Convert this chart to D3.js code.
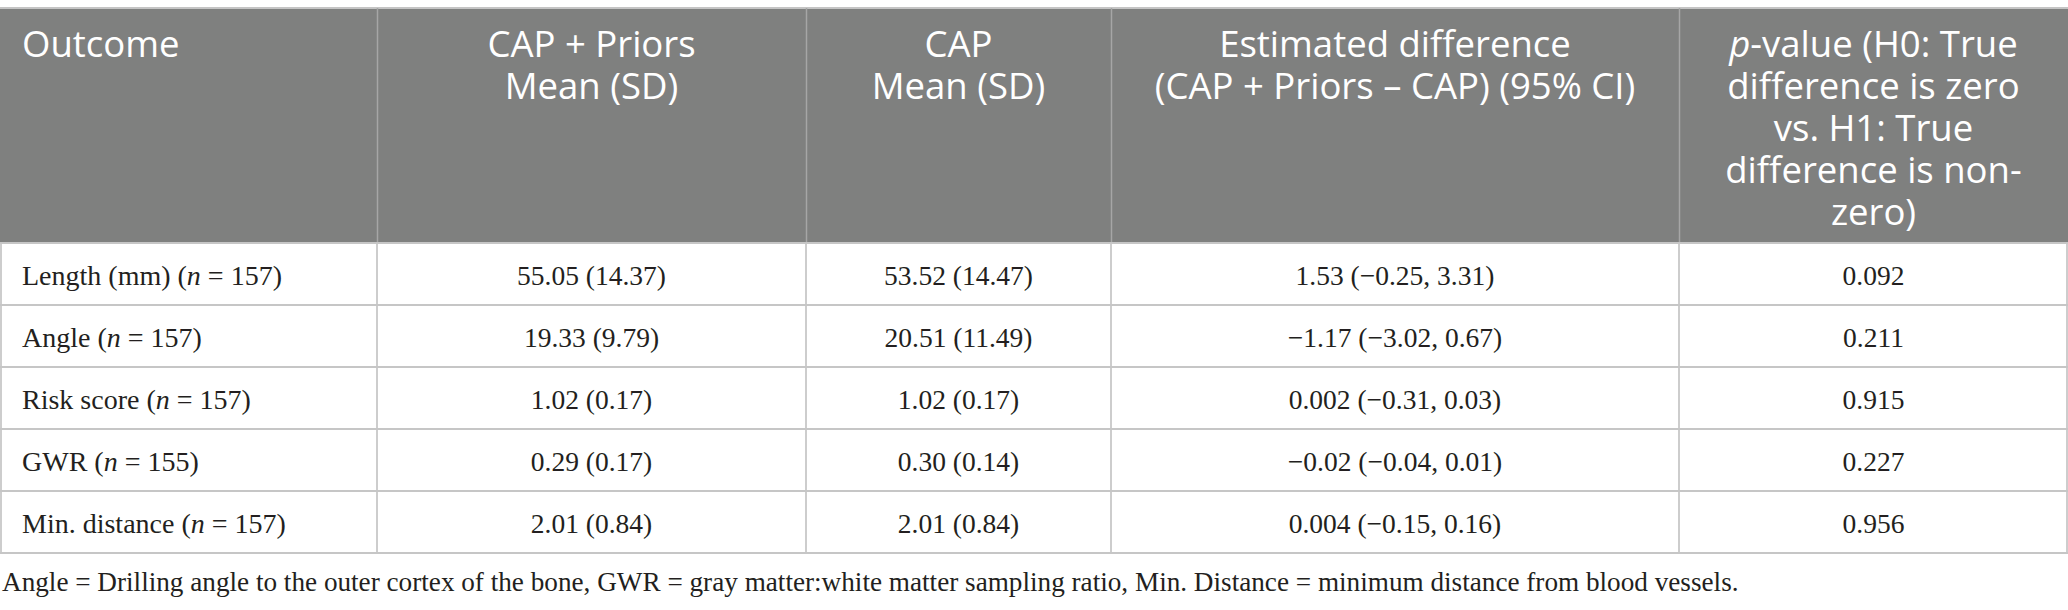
<!DOCTYPE html>
<html>
<head>
<meta charset="utf-8">
<script src="https://cdn.jsdelivr.net/npm/d3@7"></script>
<style>
  html, body { margin: 0; padding: 0; background: #fff; }
  svg { display: block; }
</style>
</head>
<body>
<svg id="chart" width="2068" height="610"></svg>
<script>
// ---- data ----
const outcomes = ["Length (mm)", "Angle", "Risk score", "GWR", "Min. distance"];
const nValues = [157, 157, 157, 155, 157];
const capPriors = ["55.05 (14.37)", "19.33 (9.79)", "1.02 (0.17)", "0.29 (0.17)", "2.01 (0.84)"];
const capOnly = ["53.52 (14.47)", "20.51 (11.49)", "1.02 (0.17)", "0.30 (0.14)", "2.01 (0.84)"];
const estDiff = ["1.53 (\u22120.25, 3.31)", "\u22121.17 (\u22123.02, 0.67)", "0.002 (\u22120.31, 0.03)",
                 "\u22120.02 (\u22120.04, 0.01)", "0.004 (\u22120.15, 0.16)"];
const pValues = ["0.092", "0.211", "0.915", "0.227", "0.956"];
const headers = [
  ["Outcome"],
  ["CAP + Priors", "Mean (SD)"],
  ["CAP", "Mean (SD)"],
  ["Estimated difference", "(CAP + Priors \u2013 CAP) (95% CI)"],
  ["p-value (H0: True", "difference is zero", "vs. H1: True", "difference is non-", "zero)"]
];
const footnote = "Angle = Drilling angle to the outer cortex of the bone, GWR = gray matter:white matter sampling ratio, Min. Distance = minimum distance from blood vessels.";

// ---- layout ----
const colEdges = [0, 377, 806, 1111, 1679, 2068];
const tableTop = 8, headerBottom = 243, tableBottom = 553;
const headerFill = "#7f807f";
const serif = "'Liberation Serif', 'Times New Roman', serif";
const sans = "'Open Sans', 'Noto Sans', sans-serif";

const svg = d3.select("#chart");
const colCenter = i => (colEdges[i] + colEdges[i + 1]) / 2;

const y = d3.scaleBand().domain(d3.range(outcomes.length)).range([headerBottom, tableBottom]);

// header background
svg.append("rect").attr("x", 0).attr("y", tableTop).attr("width", 2068)
  .attr("height", headerBottom - tableTop).attr("fill", headerFill);
svg.append("line").attr("x1", 0).attr("x2", 2068).attr("y1", tableTop).attr("y2", tableTop)
  .attr("stroke", "#c4c4c4").attr("stroke-width", 2);

// header vertical separators
svg.selectAll(".hsep").data(colEdges.slice(1, -1)).join("line")
  .attr("x1", d => d + 0.5).attr("x2", d => d + 0.5)
  .attr("y1", tableTop).attr("y2", headerBottom)
  .attr("stroke", "#a6a6a6").attr("stroke-width", 1.5);

// header text
const lineH = 42;
headers.forEach((lines, ci) => {
  const t = svg.append("text")
    .attr("font-family", sans).attr("font-size", 36.5).attr("fill", "#fff")
    .attr("text-anchor", ci === 0 ? "start" : "middle");
  lines.forEach((ln, li) => {
    const ts = t.append("tspan")
      .attr("x", ci === 0 ? 22 : colCenter(ci))
      .attr("y", 57 + li * lineH);
    if (ci === 4 && li === 0) {
      ts.append("tspan").attr("font-style", "italic").text("p");
      ts.append("tspan").text(ln.slice(1));
    } else {
      ts.text(ln);
    }
  });
});

// body vertical lines
svg.selectAll(".vsep").data(colEdges).join("line")
  .attr("x1", d => Math.min(Math.max(d, 1), 2067)).attr("x2", d => Math.min(Math.max(d, 1), 2067))
  .attr("y1", headerBottom).attr("y2", tableBottom)
  .attr("stroke", "#bdbdbd").attr("stroke-width", 1.5);

// horizontal row lines
const hLines = d3.range(outcomes.length + 1).map(i => i < outcomes.length ? y(i) : tableBottom);
svg.selectAll(".hrow").data(hLines).join("line")
  .attr("x1", 0).attr("x2", 2068).attr("y1", d => d).attr("y2", d => d)
  .attr("stroke", "#c6c6c6").attr("stroke-width", 2);

// body text
const rows = outcomes.map((o, i) => ({o, n: nValues[i], cells: [capPriors[i], capOnly[i], estDiff[i], pValues[i]]}));
rows.forEach((r, i) => {
  const base = y(i) + y.bandwidth() / 2 + 10.5;
  const t = svg.append("text").attr("x", 22).attr("y", base)
    .attr("font-family", serif).attr("font-size", 28).attr("fill", "#231f20");
  t.append("tspan").text(r.o + " (");
  t.append("tspan").attr("font-style", "italic").text("n");
  t.append("tspan").text(" = " + r.n + ")");
  r.cells.forEach((c, k) => {
    svg.append("text").attr("x", colCenter(k + 1)).attr("y", base)
      .attr("text-anchor", "middle")
      .attr("font-family", serif).attr("font-size", 27.5).attr("fill", "#231f20")
      .text(c);
  });
});

// footnote
svg.append("text").attr("x", 2).attr("y", 591)
  .attr("font-family", serif).attr("font-size", 27.2).attr("fill", "#231f20")
  .text(footnote);
</script>
</body>
</html>
